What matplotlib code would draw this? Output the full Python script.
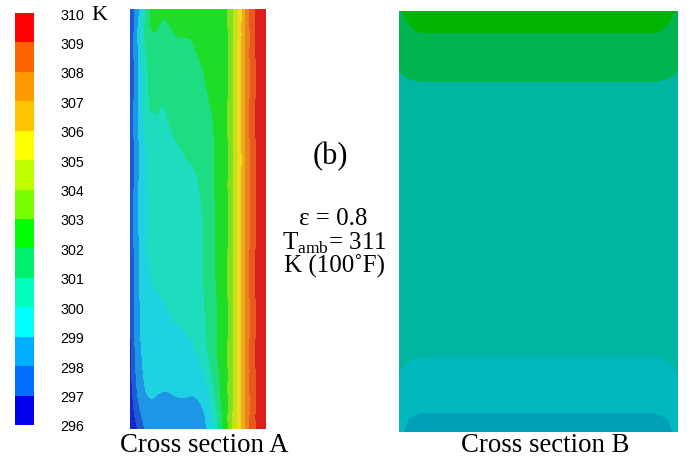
import matplotlib
matplotlib.use("Agg")
import matplotlib.pyplot as plt
import matplotlib.tri as mtri
import numpy as np
from matplotlib.colors import ListedColormap, BoundaryNorm
from matplotlib.cm import ScalarMappable

plt.rcParams["mathtext.fontset"] = "custom"
plt.rcParams["mathtext.rm"] = "Liberation Serif"

# temperature levels (K) and colours: legend, section A, section B
levels = list(range(296, 311))
bar_colors = [
    (0, 0, 240), (0, 110, 255), (0, 175, 255), (0, 255, 255),
    (0, 255, 190), (0, 240, 110), (0, 255, 0), (120, 255, 0),
    (190, 255, 0), (255, 255, 0), (255, 195, 0), (255, 155, 0),
    (255, 100, 0), (255, 0, 0),
]
a_colors = [
    (20, 40, 200), (30, 90, 210), (30, 150, 230), (30, 210, 225),
    (30, 220, 190), (30, 220, 130), (30, 220, 40), (130, 225, 30),
    (200, 225, 30), (240, 220, 30), (240, 170, 30), (235, 130, 30),
    (230, 90, 30), (220, 30, 30),
]
b_colors = [
    (0, 20, 180), (0, 90, 185), (0, 160, 185), (0, 185, 190),
    (0, 182, 162), (0, 180, 80), (0, 180, 0), (90, 180, 0),
    (140, 180, 0), (180, 180, 0), (180, 140, 0), (180, 110, 0),
    (180, 70, 0), (180, 0, 0),
]

# cross section A: sample points (px across, px down) and temperatures
a_cols = [130, 134, 140, 147, 158, 172, 188, 202, 212, 220, 228, 250, 256, 266]
a_rows = [10, 30, 60, 100, 140, 190, 250, 300, 340, 370, 395, 415, 430]
a_right = [303.0, 308.0, 309.0, 309.95]
a_temp = [
    [297.2, 298.0, 299.0, 301.3, 302.2, 302.3, 302.4, 302.4, 302.5, 302.6],
    [297.2, 298.0, 299.6, 301.5, 301.95, 302.0, 302.1, 302.3, 302.4, 302.5],
    [297.2, 298.0, 299.5, 301.0, 301.3, 301.5, 301.85, 302.05, 302.3, 302.5],
    [297.2, 298.0, 299.4, 300.8, 301.1, 301.25, 301.5, 301.85, 302.05, 302.3],
    [297.2, 298.0, 299.2, 300.2, 300.55, 300.9, 301.2, 301.6, 301.9, 302.3],
    [297.1, 298.0, 299.2, 300.0, 300.35, 300.55, 300.8, 301.1, 301.8, 302.3],
    [297.0, 298.0, 299.1, 299.95, 300.25, 300.45, 300.65, 300.95, 301.7, 302.3],
    [296.9, 297.9, 299.0, 299.7, 299.95, 300.2, 300.45, 300.85, 301.6, 302.2],
    [296.7, 297.8, 298.9, 299.4, 299.6, 299.75, 299.95, 300.6, 301.5, 302.2],
    [296.6, 297.6, 298.7, 299.2, 299.35, 299.4, 299.5, 299.95, 301.2, 302.1],
    [296.4, 297.3, 298.4, 299.0, 299.0, 299.0, 299.05, 299.3, 300.5, 301.9],
    [296.2, 296.9, 297.8, 298.6, 298.7, 298.7, 298.7, 298.85, 299.9, 301.6],
    [296.1, 296.6, 297.3, 298.3, 298.5, 298.5, 298.5, 298.7, 299.7, 301.4],
]

# cross section B
b_cols = [399, 408, 420, 538, 656, 668, 678]
b_rows = [12, 30, 40, 75, 90, 200, 350, 365, 405, 420, 433]
b_edge = [301.9, 301.6, 301.5, 300.95, 300.7, 300.5, 300.3, 300.1, 299.6, 299.3, 299.1]
b_near = [302.2, 301.9, 301.7, 301.1, 300.75, 300.5, 300.25, 299.95, 299.45, 299.0, 298.9]
b_mid = [302.7, 302.1, 301.8, 301.2, 300.8, 300.5, 300.2, 299.8, 299.3, 298.8, 298.6]

ticks = levels
units = "K"
labels = ["Cross section A", "Cross section B"]


def to_cmap(colors):
    return ListedColormap([[c / 255 for c in col] for col in colors])


norm = BoundaryNorm(levels, len(bar_colors))

fig = plt.figure(figsize=(6.9, 4.64), dpi=100)

# colour bar
cax = fig.add_axes([15 / 690, 38 / 464, 19 / 690, 412 / 464])
cb = fig.colorbar(ScalarMappable(norm=norm, cmap=to_cmap(bar_colors)), cax=cax)
cb.outline.set_visible(False)
cb.set_ticks(ticks)
cb.set_ticklabels([str(t) for t in ticks])
cb.minorticks_off()
for t in cax.get_yticklabels():
    t.set_fontfamily("Liberation Sans")
    t.set_fontsize(10.3)
cax.tick_params(length=0, pad=19)
fig.text(91 / 690, 1 - 16 / 464, units, family="Liberation Serif", fontsize=16,
         va="center", ha="left")

# cross section A (smoothed with matplotlib's tri refiner)
axA = fig.add_axes([130 / 690, 34 / 464, 136 / 690, 420 / 464])
X, Y = np.meshgrid(a_cols, a_rows)
tri = mtri.Triangulation(X.ravel(), Y.ravel())
temp = np.array([row + a_right for row in a_temp]).ravel()
tri_f, z_f = mtri.UniformTriRefiner(tri).refine_field(temp, subdiv=3)
z_f = np.clip(z_f, levels[0] + 0.01, levels[-1] - 0.01)
axA.tricontourf(tri_f, z_f, levels=levels, cmap=to_cmap(a_colors), norm=norm)
axA.set_xlim(130, 266)
axA.set_ylim(430, 10)
axA.axis("off")

# cross section B
axB = fig.add_axes([399 / 690, 31 / 464, 279 / 690, 421 / 464])
B = np.array([b_edge, b_near, b_mid, b_mid, b_mid, b_near, b_edge]).T
axB.contourf(b_cols, b_rows, B, levels=levels, cmap=to_cmap(b_colors), norm=norm)
axB.set_xlim(399, 678)
axB.set_ylim(433, 12)
axB.axis("off")

# captions
serif = dict(family="Liberation Serif", ha="center", va="center")
fig.text(204 / 690, 1 - 446 / 464, labels[0], fontsize=19.3, **serif)
fig.text(545 / 690, 1 - 446 / 464, labels[1], fontsize=19.3, **serif)
fig.text(330 / 690, 1 - 157 / 464, "(b)", fontsize=22, **serif)
fig.text(333 / 690, 1 - 219 / 464, "\u03b5 = 0.8", fontsize=18, **serif)
fig.text(334 / 690, 1 - 243 / 464, r"T$_{\rm amb}$= 311", fontsize=18, **serif)
fig.text(335 / 690, 1 - 266 / 464, "K (100\u02daF)", fontsize=18, **serif)

fig.savefig("out.png", dpi=100)
